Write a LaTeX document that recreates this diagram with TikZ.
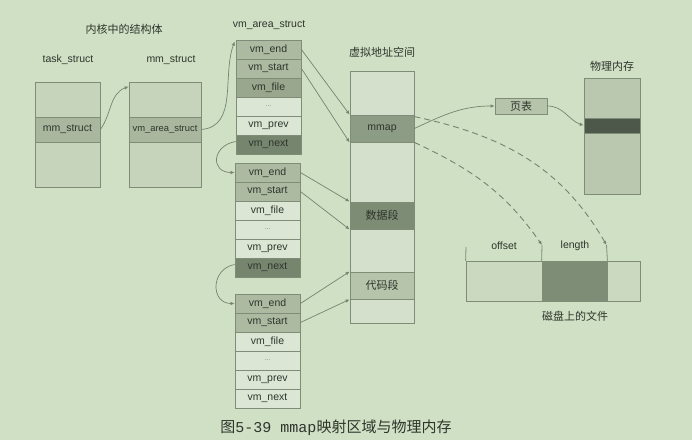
\documentclass[tikz,border=0pt]{standalone}
\usepackage{fontspec}
\setmainfont{Liberation Sans}
\setmonofont{Liberation Mono}
\newfontfamily\cjk{Noto Sans CJK SC}
\usetikzlibrary{arrows.meta}

\definecolor{bgcol}{HTML}{CFE0C5}
\definecolor{edgecol}{HTML}{7F8D78}
\definecolor{linecol}{HTML}{76836F}
\definecolor{txtcol}{HTML}{2E352B}
\definecolor{boxcol}{HTML}{C5D4BA}
\definecolor{rowcol}{HTML}{A8B79E}
\definecolor{cellmid}{HTML}{ABBAA1}
\definecolor{celldark}{HTML}{98A78E}
\definecolor{celllight}{HTML}{DCE6D5}
\definecolor{cellnext}{HTML}{76856E}
\definecolor{vaslight}{HTML}{D4E0CC}
\definecolor{mmapcol}{HTML}{8D9C85}
\definecolor{datacol}{HTML}{7D8C75}
\definecolor{codecol}{HTML}{B6C4AC}
\definecolor{physcol}{HTML}{BAC8AF}
\definecolor{bandcol}{HTML}{4D584A}
\definecolor{disklight}{HTML}{CAD9BF}
\definecolor{diskdark}{HTML}{7E8D76}

\begin{document}
\begin{tikzpicture}[x=1pt, y=1pt]
    \tikzset{
        cell/.style={rectangle, draw=edgecol, line width=0.8pt, minimum width=65pt, minimum height=19pt,
            inner sep=0pt, text=txtcol, font=\fontsize{10.5}{12}\selectfont},
        title/.style={text=txtcol, font=\fontsize{10.5}{12}\selectfont},
        cntitle/.style={text=txtcol, font=\cjk\fontsize{11}{13}\selectfont},
        link/.style={draw=linecol, line width=0.7pt, -{Latex[length=4pt,width=3.5pt]}},
        maplink/.style={link, line width=0.9pt, dash pattern=on 6pt off 4pt}
    }
    \fill[bgcol] (0,0) rectangle (692,-440);
    \useasboundingbox (0,0) rectangle (692,-440);

    % kernel structures
    \node[cntitle] at (124,-29) {内核中的结构体};
    \node[title] at (68,-60) {task\_struct};
    \node[title] at (171,-60) {mm\_struct};
    \node[cell, fill=boxcol, minimum height=105pt] (task) at (67.5,-134.5) {};
    \node[cell, fill=rowcol, minimum height=25pt] (taskmm) at (67.5,-129.5) {mm\_struct};
    \node[cell, fill=boxcol, minimum width=72pt, minimum height=105pt] (mm) at (165,-134.5) {};
    \node[cell, fill=rowcol, minimum width=72pt, minimum height=25pt, font=\fontsize{9.4}{11}\selectfont] (mmvma) at (165,-129.5) {vm\_area\_struct};

    % vm_area_struct list
    \node[title] at (269,-25) {vm\_area\_struct};
    \foreach \b/\yt/\x/\filecol/\nextcol in {1/40/268.5/celldark/cellnext, 2/163/267.5/celllight/cellnext, 3/294/267.5/celllight/celllight} {
        \node[cell, fill=cellmid] (end\b) at (\x,-\yt-9.5) {vm\_end};
        \node[cell, fill=cellmid] (start\b) at (\x,-\yt-28.5) {vm\_start};
        \node[cell, fill=\filecol] (file\b) at (\x,-\yt-47.5) {vm\_file};
        \node[cell, fill=celllight, font=\scriptsize, text=gray] (dots\b) at (\x,-\yt-66.5) {...};
        \node[cell, fill=celllight] (prev\b) at (\x,-\yt-85.5) {vm\_prev};
        \node[cell, fill=\nextcol] (next\b) at (\x,-\yt-104.5) {vm\_next};
    }

    % virtual address space
    \node[cntitle] at (382,-52) {虚拟地址空间};
    \node[cell, fill=vaslight, minimum width=64pt, minimum height=252pt] (vas) at (382,-197) {};
    \node[cell, fill=mmapcol, minimum width=64pt, minimum height=27pt] (mmap) at (382,-128.5) {mmap};
    \node[cell, fill=datacol, minimum width=64pt, minimum height=27pt, font=\cjk\fontsize{11}{13}\selectfont] (data) at (382,-215.5) {数据段};
    \node[cell, fill=codecol, minimum width=64pt, minimum height=27pt, font=\cjk\fontsize{11}{13}\selectfont] (code) at (382,-285.5) {代码段};

    % page table and physical memory
    \node[cell, fill=codecol, minimum width=52pt, minimum height=16pt, font=\cjk\fontsize{11}{13}\selectfont] (pt) at (521,-106) {页表};
    \node[cntitle] at (612,-66) {物理内存};
    \node[cell, fill=physcol, minimum width=56pt, minimum height=116pt] (phys) at (612,-136) {};
    \node[cell, fill=bandcol, minimum width=56pt, minimum height=15pt] (band) at (612,-125.5) {};

    % file on disk
    \node[cell, fill=disklight, minimum width=174pt, minimum height=40pt] (disk) at (553,-281) {};
    \node[cell, fill=diskdark, minimum width=65pt, minimum height=40pt] (part) at (574.5,-281) {};
    \node[cntitle] at (575,-316) {磁盘上的文件};
    \node[title] at (504,-246) {offset};
    \node[title] at (575,-246) {length};
    \coordinate (filetop) at (466,-247);
    \coordinate (offtop) at (542,-245);
    \coordinate (lentop) at (606.5,-245);
    \draw[edgecol, line width=0.8pt] (filetop) -- (disk.north west);
    \draw[edgecol, line width=0.8pt] (offtop) -- (part.north west);
    \draw[edgecol, line width=0.8pt] (lentop) -- (part.north east);

    % links
    \draw[link] (taskmm.east) to[out=55,in=200] ([yshift=-5pt]mm.north west);
    \draw[link] (mmvma.east) to[out=5,in=250] ([xshift=-1pt,yshift=-2pt]end1.north west);
    \draw[link] ([yshift=3pt]next1.west) to[out=190,in=180,looseness=2] (end2.west);
    \draw[link] ([yshift=3pt]next2.west) to[out=190,in=180,looseness=1.6] (end3.west);
    \draw[link] (end1.east) -- (mmap.north west);
    \draw[link] (start1.east) -- (mmap.south west);
    \draw[link] (end2.east) -- (data.north west);
    \draw[link] (start2.east) -- (data.south west);
    \draw[link] (end3.east) -- (code.north west);
    \draw[link] (start3.east) -- (code.south west);
    \draw[link] (mmap.east) to[out=25,in=180] (pt.west);
    \draw[link] (pt.east) to[out=0,in=160] (band.west);
    \draw[maplink] ([yshift=-2pt]mmap.north east) to[out=-12,in=120] (lentop);
    \draw[maplink] (mmap.south east) to[out=-25,in=125] (offtop);

    % caption
    \node[text=txtcol, font=\cjk\fontsize{15}{17}\selectfont] at (336,-428) {图\texttt{5-39 mmap}映射区域与物理内存};
\end{tikzpicture}
\end{document}
